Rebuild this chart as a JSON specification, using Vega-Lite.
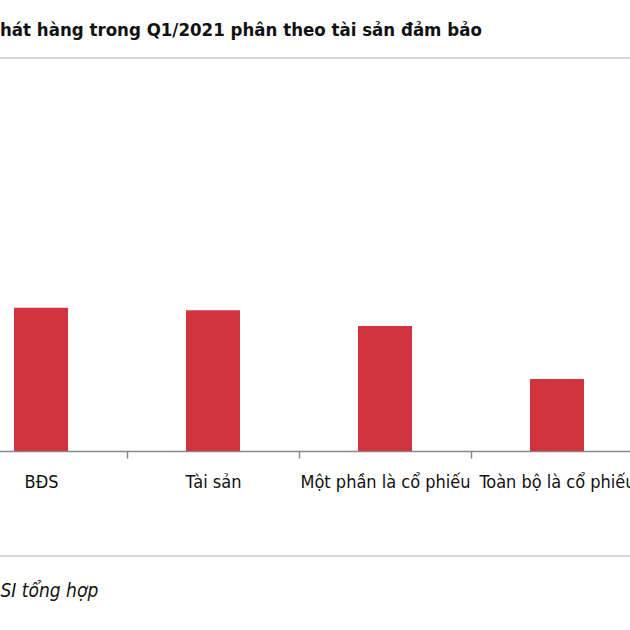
{
  "$schema": "https://vega.github.io/schema/vega-lite/v6.json",
  "autosize": {"type": "none"},
  "width": 688,
  "height": 498,
  "padding": {"left": -45, "top": 58, "right": -13, "bottom": 74},
  "background": "white",
  "title": {
    "text": "hát hàng trong Q1/2021 phân theo tài sản đảm bảo",
    "anchor": "start",
    "dx": 45,
    "offset": 19,
    "font": "DejaVu Sans Condensed, Liberation Sans, sans-serif",
    "fontSize": 18.5,
    "fontWeight": "bold",
    "color": "#111111"
  },
  "data": {
    "values": [
      {"loai": "BĐS", "gia_tri": 143.3},
      {"loai": "Tài sản", "gia_tri": 140.7},
      {"loai": "Một phần là cổ phiếu", "gia_tri": 125},
      {"loai": "Toàn bộ là cổ phiếu", "gia_tri": 72}
    ]
  },
  "mark": {"type": "bar", "color": "#d1343f"},
  "encoding": {
    "x": {
      "field": "loai",
      "type": "nominal",
      "sort": null,
      "scale": {"paddingInner": 0.686, "paddingOuter": 0.343},
      "title": "SI tổng hợp",
      "axis": {
        "orient": "bottom",
        "offset": -105,
        "labelAngle": 0,
        "labelFont": "DejaVu Sans Condensed, Liberation Sans, sans-serif",
        "labelFontSize": 18,
        "labelColor": "#111111",
        "labelPadding": 15,
        "labelOverlap": false,
        "labelBound": false,
        "tickOffset": 86,
        "labelOffset": -86,
        "tickSize": 7,
        "tickColor": "#888888",
        "tickWidth": 1.5,
        "domainColor": "#888888",
        "domainWidth": 1.5,
        "titleFont": "DejaVu Sans Condensed, Liberation Sans, sans-serif",
        "titleFontSize": 19,
        "titleFontStyle": "italic",
        "titleFontWeight": "normal",
        "titleColor": "#111111",
        "titleAnchor": "start",
        "titleAlign": "left",
        "titleX": 45,
        "titleY": 130
      }
    },
    "y": {
      "field": "gia_tri",
      "type": "quantitative",
      "scale": {"domain": [-105, 393], "nice": false, "zero": false},
      "axis": null
    }
  },
  "config": {
    "view": {"stroke": "#cccccc", "strokeWidth": 1.5}
  }
}
